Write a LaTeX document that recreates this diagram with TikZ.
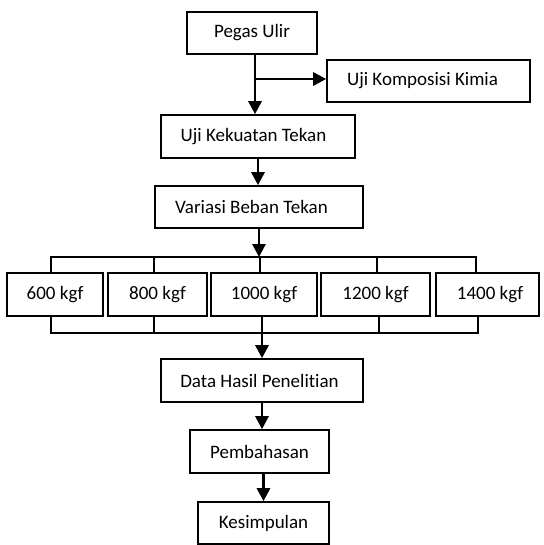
\documentclass[tikz,border=0pt]{standalone}
\usepackage{fontspec}
\setmainfont{Carlito}[Ligatures=NoCommon]
\usetikzlibrary{arrows.meta}
\begin{document}
\begin{tikzpicture}[x=1pt,y=-1pt,
  box/.style={draw, line width=1.6pt, minimum height=42pt, inner sep=0pt,
    font=\fontsize{19}{22}\selectfont},
  flow/.style={line width=2.8pt, -{Triangle[width=13pt,length=13pt]}},
  bracket/.style={line width=1.3pt}]
\useasboundingbox (0,0) rectangle (543,545);

% main column
\node[box, minimum width=130pt] (pegas) at (252,33) {Pegas Ulir};
\node[box, minimum width=203pt] (kimia) at (428.5,81) {Uji Komposisi Kimia\kern12pt};
\node[box, minimum width=194pt, minimum height=43pt] (kekuatan) at (258,136.5) {Uji Kekuatan Tekan\kern9pt};
\node[box, minimum width=208pt] (variasi) at (259,207) {Variasi Beban Tekan\kern15pt};

% load variants
\node[box, minimum width=96pt,  minimum height=43pt] (k600)  at (55,294.5)  {600 kgf};
\node[box, minimum width=99pt,  minimum height=43pt] (k800)  at (157.5,294.5) {800 kgf};
\node[box, minimum width=106pt, minimum height=43pt] (k1000) at (264,294.5) {1000 kgf};
\node[box, minimum width=109pt, minimum height=43pt] (k1200) at (375.5,294.5) {1200 kgf};
\node[box, minimum width=103pt, minimum height=43pt] (k1400) at (487.5,294.5) {\kern5pt1400 kgf};

% results
\node[box, minimum width=202pt, minimum height=43pt] (data) at (262,380.5) {Data Hasil Penelitian\kern5pt};
\node[box, minimum width=139pt, minimum height=43pt] (pemb) at (259.5,451.5) {Pembahasan};
\node[box, minimum width=131pt] (kes) at (263.5,523) {Kesimpulan};

% branch off the first arrow
\coordinate (br) at (255,79);
\draw[flow] (pegas.south -| br) -- (br |- kekuatan.north);
\draw[flow] (br) -- (br -| kimia.west);
\draw[flow] (kekuatan.south) -- (kekuatan.south |- variasi.north);

% distribution bracket above the variants
\coordinate (t1) at (51,257);
\coordinate (t2) at (154,257);
\coordinate (t3) at (260,257);
\coordinate (t4) at (377,257);
\coordinate (t5) at (476,257);
\draw[flow] (variasi.south) -- (variasi.south |- t1);
\draw[bracket] (t1 |- k600.north) -- (t1) -- (t5) -- (t5 |- k1400.north);
\foreach \i/\n in {2/k800,3/k1000,4/k1200}
  \draw[bracket] (t\i) -- (t\i |- \n.north);

% collecting bracket below the variants
\coordinate (b1) at (51,333);
\coordinate (b2) at (154,333);
\coordinate (b4) at (379,333);
\coordinate (b5) at (478,333);
\draw[bracket] (b1 |- k600.south) -- (b1) -- (b5) -- (b5 |- k1400.south);
\foreach \i/\n in {2/k800,4/k1200}
  \draw[bracket] (b\i) -- (b\i |- \n.south);
\draw[flow] (data.north |- k1000.south) -- (data.north);

\draw[flow] (data.south) -- (data.south |- pemb.north);
\draw[flow] (kes.north |- pemb.south) -- (kes.north);
\end{tikzpicture}
\end{document}
